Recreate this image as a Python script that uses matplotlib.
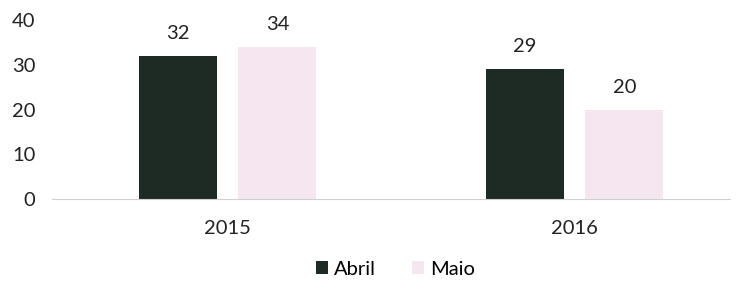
import matplotlib.pyplot as plt
import numpy as np

years = ['2015', '2016']
abril = [32, 29]
maio = [34, 20]

plt.rcParams['font.family'] = ['Lato', 'DejaVu Sans']

fig = plt.figure(figsize=(7.39, 2.9), dpi=100)
ax = fig.add_axes([0.0704, 0.3138, 0.917, 0.617])

x = np.arange(len(years))
w = 0.225
off = 0.143
b1 = ax.bar(x - off, abril, w, color='#1e2a24', label='Abril')
b2 = ax.bar(x + off, maio, w, color='#f6e6ef', label='Maio')

for bars in (b1, b2):
    for b in bars:
        ax.annotate(str(int(b.get_height())), (b.get_x() + b.get_width() / 2, b.get_height()),
                    xytext=(0, 10), textcoords='offset points', ha='center', va='bottom',
                    fontsize=14.5, color='#222222')

ax.set_ylim(0, 40)
ax.set_xlim(-0.507, 1.447)
ax.set_yticks([0, 10, 20, 30, 40])
ax.set_xticks(x)
ax.set_xticklabels(years)
ax.tick_params(length=0, labelsize=14.5, colors='#222222')
ax.tick_params(axis='x', pad=15)
ax.tick_params(axis='y', pad=12)
for s in ['top', 'right', 'left']:
    ax.spines[s].set_visible(False)
ax.spines['bottom'].set_color('#d0d0d0')

fig.legend(loc='lower center', bbox_to_anchor=(0.535, -0.02), ncol=2, frameon=False,
           fontsize=14.5, handlelength=0.6, handleheight=0.6, columnspacing=1.8,
           handletextpad=0.3)

fig.savefig('out.png', dpi=100)
